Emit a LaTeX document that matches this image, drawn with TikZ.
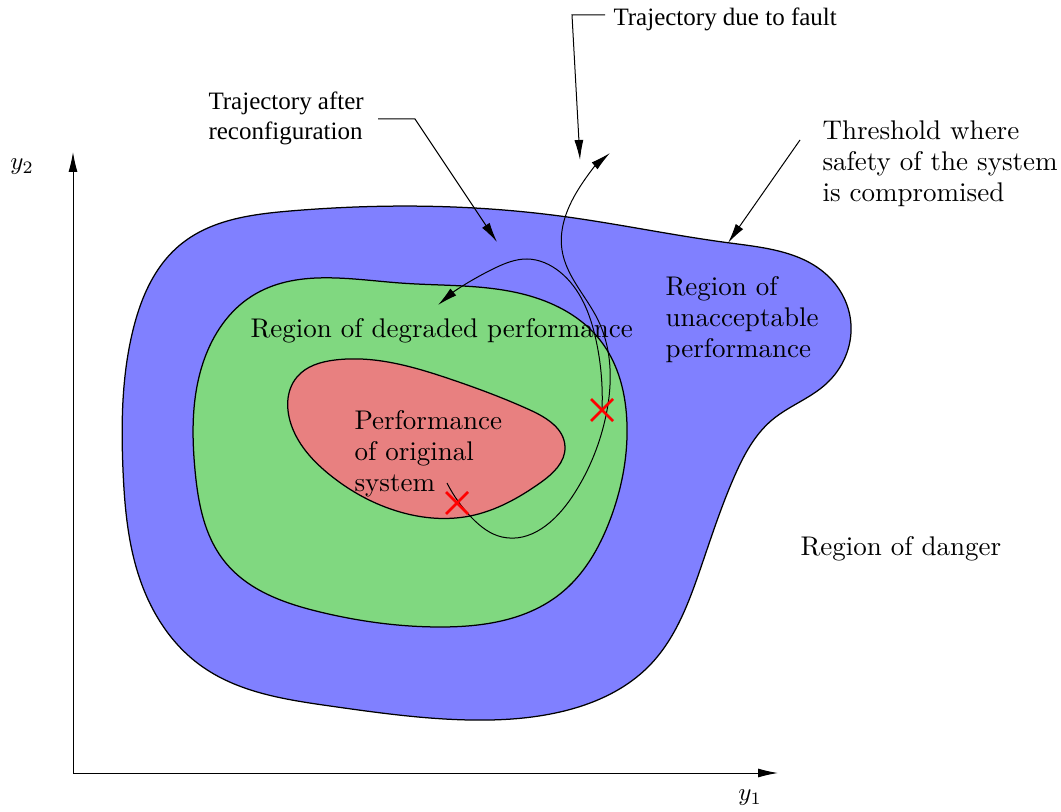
\documentclass[tikz,border=0pt]{standalone}
\usepackage{fontspec}
\newfontfamily\timesfont{Liberation Serif}
\usetikzlibrary{arrows.meta,hobby}
\definecolor{blueR}{RGB}{128,128,255}
\definecolor{greenR}{RGB}{128,216,128}
\definecolor{redR}{RGB}{232,128,128}
\tikzset{
  region/.style={draw=black, line width=0.5pt, use Hobby shortcut, closed=true},
  lm/.style={inner sep=0pt, anchor=north west, align=left, font=\fontsize{10.8}{12.4}\selectfont},
  tm/.style={inner sep=0pt, anchor=north west, align=left, font=\timesfont\fontsize{10}{12}\selectfont},
  pointer/.style={line width=0.4pt, -{Latex[length=8pt,width=3.6pt]}},
  traj/.style={line width=0.5pt, use Hobby shortcut},
  crossmark/.style={red, line width=1pt},
}
\begin{document}
\begin{tikzpicture}[x=0.4pt,y=-0.4pt]
\useasboundingbox (0,0) rectangle (1061,812);
% regions
\filldraw[region, fill=blueR] (290,211) .. (560,216) .. (730,243) .. (828,276) .. (851,325) .. (826,384) .. (772,420) .. (735,475) .. (700,570) .. (650,665) .. (560,712) .. (470,720) .. (330,706) .. (200,665) .. (142,585) .. (123,470) .. (133,330) .. (180,245);
\filldraw[region, fill=greenR] (400,283) .. (530,296) .. (600,340) .. (627,425) .. (610,520) .. (560,594) .. (440,627) .. (320,612) .. (225,562) .. (195,470) .. (204,360) .. (252,296);
\filldraw[region, fill=redR] (335,360) .. (450,379) .. (530,410) .. (565,447) .. (540,483) .. (470,516) .. (400,512) .. (330,475) .. (292,427) .. (297,377);
% axes
\coordinate (O) at (73,773);
\coordinate (Ytip) at (73,152);
\coordinate (Xtip) at (778,773);
\draw[pointer] (O) -- (Ytip);
\draw[pointer] (O) -- (Xtip);
\node[inner sep=0pt] (y2) at (22,167) {$y_2$};
\node[inner sep=0pt] (y1) at (750,798) {$y_1$};
% trajectories
\draw[traj, pointer] (447,483) .. (472,518) .. (502,537) .. (572,497) .. (605,420) .. (598,320) .. (562,250) .. (575,195) .. (610,153);
\draw[traj, pointer] (602,410) .. (596,340) .. (560,272) .. (527,259) .. (495,268) .. (438,305);
% crosses
\draw[crossmark] (446,492) -- (468,514) (446,514) -- (468,492);
\draw[crossmark] (591,399) -- (613,421) (591,421) -- (613,399);
% texts
\node[tm] (fault) at (613,7) {Trajectory due to fault};
\node[tm] (recon) at (208,91) {Trajectory after\\reconfiguration};
\node[lm] (thresh) at (822,120) {Threshold where\\safety of the system\\is compromised};
\node[lm] (unacc) at (665,276) {Region of\\unacceptable\\performance};
\node[lm] (degr) at (250,318) {Region of degraded performance};
\node[lm] (orig) at (354,410) {Performance\\of original\\system};
\node[lm] (danger) at (800,536) {Region of danger};
% leaders
\coordinate (f1) at (605,15);
\coordinate (f2) at (572,15);
\coordinate (f3) at (580,160);
\draw[pointer] (f1) -- (f2) -- (f3);
\coordinate (r1) at (378,119);
\coordinate (r2) at (415,119);
\coordinate (r3) at (497,242);
\draw[pointer] (r1) -- (r2) -- (r3);
\coordinate (t1) at (800,140);
\coordinate (t2) at (728,243);
\draw[pointer] (t1) -- (t2);
\end{tikzpicture}
\end{document}
